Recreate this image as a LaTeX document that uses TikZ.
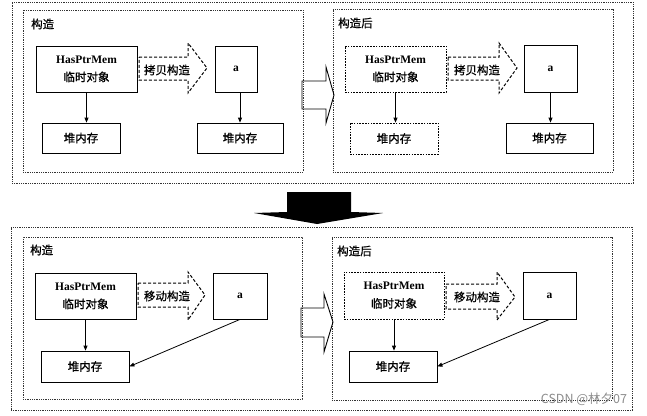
\documentclass[tikz,border=0pt]{standalone}
\usepackage{fontspec}
\setmainfont{Liberation Serif}
\newfontfamily\cjk{Noto Sans CJK SC}[FakeBold=0.8]
\newfontfamily\cjkw{Noto Sans CJK SC}
\usetikzlibrary{arrows.meta}
\begin{document}
\begin{tikzpicture}[x=1pt,y=-1pt,
  frame/.style={draw=black!80, line width=0.7pt, dash pattern=on 0.9pt off 0.9pt, inner sep=0pt},
  box/.style={draw, line width=0.8pt, inner sep=0pt, align=center, font=\fontsize{11.5}{18}\selectfont},
  dbox/.style={box, dash pattern=on 1.6pt off 1.2pt},
  lab/.style={font=\fontsize{11.5}{14}\selectfont\cjk, inner sep=0pt},
  arr/.style={line width=0.8pt, -{Triangle[length=5pt,width=4pt]}},
  bigdash/.style={line width=1pt, dash pattern=on 3pt off 2pt, line join=miter},
  hollow/.style={line width=0.9pt, line join=miter},
]
\useasboundingbox (0,0) rectangle (647,415);

% frames
\node[frame, minimum width=621pt, minimum height=181pt] (F1) at (322.5,92.5) {};
\node[frame, minimum width=280pt, minimum height=162pt] (F1L) at (163,91) {};
\node[frame, minimum width=280pt, minimum height=163pt] (F1R) at (473,90.5) {};
\node[frame, minimum width=621pt, minimum height=183pt] (F2) at (321.5,318.5) {};
\node[frame, minimum width=279pt, minimum height=162pt] (F2L) at (162.5,318) {};
\node[frame, minimum width=280pt, minimum height=163pt] (F2R) at (472,318.5) {};

% frame labels
\node[lab, anchor=west] (t1) at (31,24) {构造};
\node[lab, anchor=west] (t2) at (338,23) {构造后};
\node[lab, anchor=west] (t3) at (30,250) {构造};
\node[lab, anchor=west] (t4) at (337,251) {构造后};

% top-left
\node[box, minimum width=101pt, minimum height=46pt] (h1) at (86.5,69) {\textbf{HasPtrMem}\\{\cjk 临时对象}};
\node[box, minimum width=78pt, minimum height=30pt] (m1) at (81,138) {\cjk 堆内存};
\node[box, minimum width=42pt, minimum height=46pt] (a1) at (236,69) {\textbf{a}};
\node[box, minimum width=86pt, minimum height=30pt] (m2) at (240,138) {\cjk 堆内存};
\draw[arr] (h1.south) -- (h1.south |- m1.north);
\draw[arr] (m2.north |- a1.south) -- (m2.north);
\draw[bigdash] (139,57) -- (188,57) -- (188,43) -- (207,68) -- (188,93) -- (188,80) -- (139,80) -- cycle;
\node[lab] (c1) at (167,70) {拷贝构造};

% top-right
\node[dbox, minimum width=101pt, minimum height=46pt] (h2) at (395.5,69) {\textbf{HasPtrMem}\\{\cjk 临时对象}};
\node[dbox, minimum width=88pt, minimum height=31pt] (m3) at (394,138.5) {\cjk 堆内存};
\node[box, minimum width=53pt, minimum height=47pt] (a2) at (550.5,68.5) {\textbf{a}};
\node[box, minimum width=87pt, minimum height=30pt] (m4) at (549.5,138) {\cjk 堆内存};
\draw[arr] (h2.south) -- (h2.south |- m3.north);
\draw[arr] (a2.south) -- (a2.south |- m4.north);
\draw[bigdash] (448,57) -- (499,57) -- (499,43) -- (517,68) -- (499,93) -- (499,80) -- (448,80) -- cycle;
\node[lab] (c2) at (477,70) {拷贝构造};

% hollow arrow top
\draw[hollow] (302,81) -- (326,81) -- (326,67) -- (334,95) -- (326,123) -- (326,109) -- (302,109) -- cycle;

% black arrow
\fill[black] (287,192) -- (351,192) -- (351,212) -- (383,213) -- (317,224) -- (254,213) -- (287,212) -- cycle;

% bottom-left
\node[box, minimum width=101pt, minimum height=46pt] (h3) at (85.5,296) {\textbf{HasPtrMem}\\{\cjk 临时对象}};
\node[box, minimum width=88pt, minimum height=31pt] (m5) at (85,366.5) {\cjk 堆内存};
\node[box, minimum width=54pt, minimum height=46pt] (a3) at (240,296) {\textbf{a}};
\draw[arr] (h3.south) -- (h3.south |- m5.north);
\draw[arr] (a3.south) -- (m5.east);
\draw[bigdash] (138,283) -- (188,283) -- (188,272) -- (205,295) -- (188,320) -- (188,307) -- (138,307) -- cycle;
\node[lab] (c3) at (167,296) {移动构造};

% bottom-right
\node[dbox, minimum width=100pt, minimum height=47pt] (h4) at (394,295.5) {\textbf{HasPtrMem}\\{\cjk 临时对象}};
\node[box, minimum width=88pt, minimum height=31pt] (m6) at (393,366.5) {\cjk 堆内存};
\node[box, minimum width=53pt, minimum height=47pt] (a4) at (549.5,295.5) {\textbf{a}};
\draw[arr] (h4.south) -- (h4.south |- m6.north);
\draw[arr] (a4.south) -- (m6.east);
\draw[bigdash] (446,284) -- (497,284) -- (497,272) -- (515,297) -- (497,320) -- (497,309) -- (446,309) -- cycle;
\node[lab] (c4) at (477,297) {移动构造};

% hollow arrow bottom
\draw[hollow] (301,308) -- (324,308) -- (324,294) -- (333,322) -- (324,352) -- (324,337) -- (301,337) -- cycle;

% watermark
\node[font=\fontsize{12.5}{14}\selectfont\cjkw, text=black!45, inner sep=0pt] (wm) at (584,399) {CSDN @林夕07};
\end{tikzpicture}
\end{document}
